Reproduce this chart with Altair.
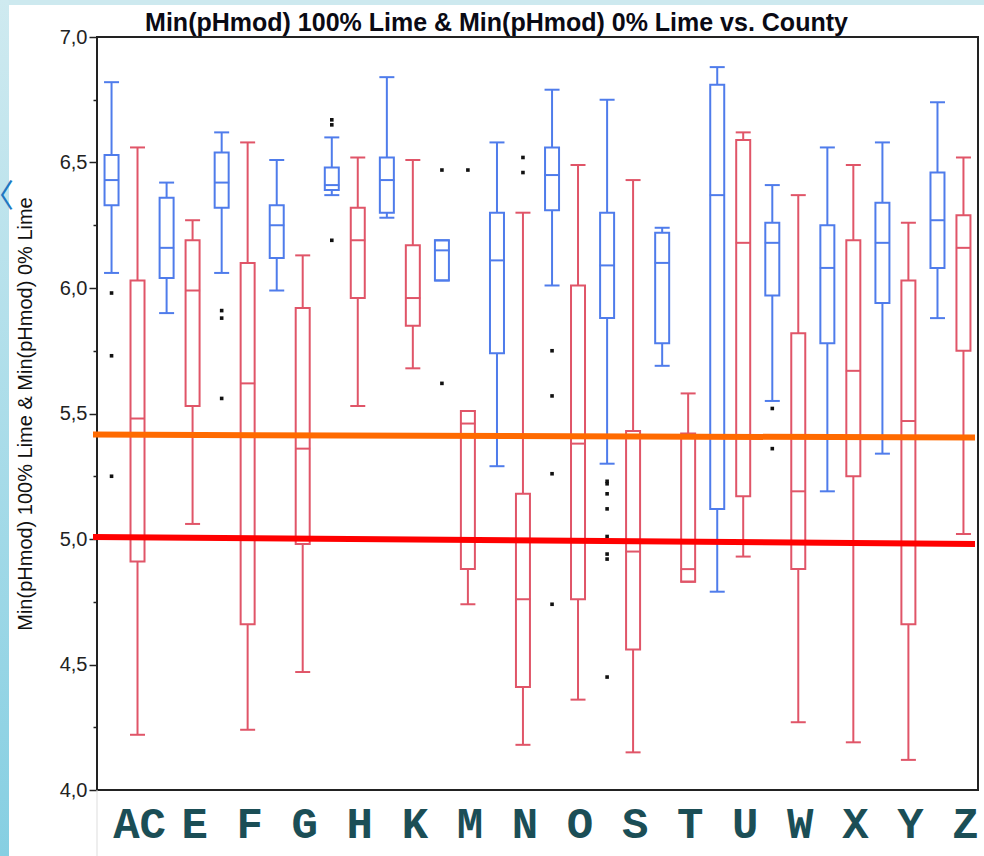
import altair as alt
import pandas as pd

# ---------------- data ----------------
counties = ["AC", "E", "F", "G", "H", "K", "M", "N", "O", "S", "T", "U", "W", "X", "Y", "Z"]
series_order = ["100% Lime", "0% Lime"]

# Min(pHmod) 100% Lime (blue)
lime100_lo  = [6.06, 5.90, 6.06, 5.99, 6.37, 6.28, 6.03, 5.29, 6.01, 5.30, 5.69, 4.79, 5.55, 5.19, 5.34, 5.88]
lime100_q1  = [6.33, 6.04, 6.32, 6.12, 6.39, 6.30, 6.03, 5.74, 6.31, 5.88, 5.78, 5.12, 5.97, 5.78, 5.94, 6.08]
lime100_med = [6.43, 6.16, 6.42, 6.25, 6.41, 6.43, 6.15, 6.11, 6.45, 6.09, 6.10, 6.37, 6.18, 6.08, 6.18, 6.27]
lime100_q3  = [6.53, 6.36, 6.54, 6.33, 6.48, 6.52, 6.19, 6.30, 6.56, 6.30, 6.22, 6.81, 6.26, 6.25, 6.34, 6.46]
lime100_hi  = [6.82, 6.42, 6.62, 6.51, 6.60, 6.84, 6.19, 6.58, 6.79, 6.75, 6.24, 6.88, 6.41, 6.56, 6.58, 6.74]

# Min(pHmod) 0% Lime (red)
lime0_lo  = [4.22, 5.06, 4.24, 4.47, 5.53, 5.68, 4.74, 4.18, 4.36, 4.15, 4.83, 4.93, 4.27, 4.19, 4.12, 5.02]
lime0_q1  = [4.91, 5.53, 4.66, 4.98, 5.96, 5.85, 4.88, 4.41, 4.76, 4.56, 4.83, 5.17, 4.88, 5.25, 4.66, 5.75]
lime0_med = [5.48, 5.99, 5.62, 5.36, 6.19, 5.96, 5.46, 4.76, 5.38, 4.95, 4.88, 6.18, 5.19, 5.67, 5.47, 6.16]
lime0_q3  = [6.03, 6.19, 6.10, 5.92, 6.32, 6.17, 5.51, 5.18, 6.01, 5.43, 5.42, 6.59, 5.82, 6.19, 6.03, 6.29]
lime0_hi  = [6.56, 6.27, 6.58, 6.13, 6.52, 6.51, 5.51, 6.30, 6.49, 6.43, 5.58, 6.62, 6.37, 6.49, 6.26, 6.52]

# outliers
out_county = ["AC", "AC", "AC", "F", "F", "F", "H", "H", "H", "M", "M", "M",
              "N", "N", "O", "O", "O", "O",
              "S", "S", "S", "S", "S", "S", "S", "S", "W", "W"]
out_series = (["100% Lime"] * 11 + ["0% Lime"] * 3 + ["100% Lime"] * 14)
out_value = [5.98, 5.73, 5.25, 5.91, 5.88, 5.56, 6.67, 6.65, 6.19, 6.47, 5.62, 6.47,
             6.52, 6.46, 5.75, 5.57, 5.26, 4.74,
             5.23, 5.22, 5.18, 5.12, 5.01, 4.94, 4.92, 4.45, 5.52, 5.36]

# hand-drawn reference lines (value at left edge, value at right edge)
ref_name = ["orange", "red"]
ref_start = [5.416, 5.008]
ref_end = [5.404, 4.980]

title_text = "Min(pHmod) 100% Lime & Min(pHmod) 0% Lime vs. County"
ytitle_text = "Min(pHmod) 100% Lime & Min(pHmod) 0% Lime"

# ---------------- tables ----------------
rows = []
for i, c in enumerate(counties):
    rows.append(dict(county=c, series="100% Lime", lo=lime100_lo[i], q1=lime100_q1[i],
                     med=lime100_med[i], q3=lime100_q3[i], hi=lime100_hi[i]))
    rows.append(dict(county=c, series="0% Lime", lo=lime0_lo[i], q1=lime0_q1[i],
                     med=lime0_med[i], q3=lime0_q3[i], hi=lime0_hi[i]))
box_df = pd.DataFrame(rows)
out_df = pd.DataFrame(dict(county=out_county, series=out_series, value=out_value))
ref_df = pd.DataFrame(dict(name=ref_name, y0=ref_start, y1=ref_end))

BLUE = "#4F7CEB"
RED = "#E05568"
W, H = 881, 753

xscale = alt.Scale(domain=counties, paddingInner=0, paddingOuter=0)
xaxis = alt.Axis(title=None, labelFont="Liberation Mono", labelFontWeight="bold",
                 labelFontSize=44, labelColor="#1b4e56", labelAngle=0, ticks=False,
                 domain=False, labelPadding=12, labelOffset=15, labelBaseline="top")
yscale = alt.Scale(domain=[4.0, 7.0], zero=False, nice=False)
tick_vals = [4.0 + 0.25 * k for k in range(13)]
yaxis = alt.Axis(
    title=ytitle_text,
    titleFont="Liberation Sans", titleFontSize=20, titleFontWeight="normal",
    titleColor="#111111", titleAngle=270, titleX=-72, titleY=H / 2,
    titleAlign="center", titleBaseline="middle",
    values=tick_vals, grid=False, domain=False,
    labelExpr="datum.value % 0.5 == 0 ? replace(format(datum.value, '.1f'), '.', ',') : ''",
    labelFont="Liberation Sans", labelFontSize=20, labelColor="#222222", labelPadding=2,
    tickColor="#222222", tickWidth=1.5,
    tickSize={"condition": {"test": "datum.value % 0.5 == 0", "value": 8}, "value": 4},
)


def X():
    return alt.X("county:N", scale=xscale, axis=xaxis, sort=counties)


def XO():
    return alt.XOffset("series:N", sort=series_order,
                       scale=alt.Scale(domain=series_order, paddingInner=0, paddingOuter=0.06))


def Y(field):
    return alt.Y(field, scale=yscale, axis=yaxis)


colscale = alt.Scale(domain=series_order, range=[BLUE, RED])

# decorative slide strips
deco = alt.Data(values=[{"k": 1}])
left_strip = alt.Chart(deco).mark_rect(
    fill=alt.Gradient(gradient="linear", x1=0, y1=0, x2=0, y2=1,
                      stops=[alt.GradientStop(color="#cfeaf0", offset=0),
                             alt.GradientStop(color="#86cfe2", offset=1)])
).encode(x=alt.value(-97), x2=alt.value(-88), y=alt.value(-37), y2=alt.value(H + 66))
top_strip = alt.Chart(deco).mark_rect(fill="#cde9ef").encode(
    x=alt.value(-88), x2=alt.value(W + 6), y=alt.value(-37), y2=alt.value(-32))
arrow = alt.Chart(deco).mark_text(fontSize=32, color="#1f78c1", font="Noto Sans CJK JP",
                                  align="right", baseline="middle").encode(
    x=alt.value(-83), y=alt.value(160), text=alt.value("〈"))
baseline_rule = alt.Chart(deco).mark_rule(color="#dddddd", strokeWidth=1).encode(
    x=alt.value(0), y=alt.value(H), y2=alt.value(H + 66))
title = alt.Chart(deco).mark_text(font="Liberation Sans", fontSize=25, fontWeight="bold",
                                  color="#0a0a14", align="center", baseline="alphabetic").encode(
    x=alt.value(W / 2 - 41), y=alt.value(-6), text=alt.value(title_text))

base = alt.Chart(box_df)
whisk = base.mark_rule(strokeWidth=2, opacity=1).encode(
    x=X(), xOffset=XO(), y=Y("lo:Q"), y2="hi:Q",
    color=alt.Color("series:N", scale=colscale, legend=None))
boxes = base.mark_bar(width=14, fill="white", fillOpacity=1, strokeWidth=2, strokeOpacity=1).encode(
    x=X(), xOffset=XO(), y=Y("q1:Q"), y2="q3:Q",
    stroke=alt.Stroke("series:N", scale=colscale, legend=None))
tick_kw = dict(size=15, thickness=2, orient="horizontal", opacity=1)
med = base.mark_tick(**tick_kw).encode(
    x=X(), xOffset=XO(), y=Y("med:Q"),
    color=alt.Color("series:N", scale=colscale, legend=None))
cap_lo = base.mark_tick(**tick_kw).encode(
    x=X(), xOffset=XO(), y=Y("lo:Q"),
    color=alt.Color("series:N", scale=colscale, legend=None))
cap_hi = base.mark_tick(**tick_kw).encode(
    x=X(), xOffset=XO(), y=Y("hi:Q"),
    color=alt.Color("series:N", scale=colscale, legend=None))
outl = alt.Chart(out_df).mark_square(size=13, color="#111111", opacity=1).encode(
    x=X(), xOffset=XO(), y=Y("value:Q"))
ref_orange = alt.Chart(ref_df).transform_filter(alt.datum.name == "orange").mark_rule(
    strokeWidth=6, color="#FF6A00", opacity=1).encode(
    x=alt.value(-4), x2=alt.value(W - 3), y=Y("y0:Q"), y2="y1:Q")
ref_red = alt.Chart(ref_df).transform_filter(alt.datum.name == "red").mark_rule(
    strokeWidth=6, color="#FF0000", opacity=1).encode(
    x=alt.value(-4), x2=alt.value(W - 3), y=Y("y0:Q"), y2="y1:Q")

chart = alt.layer(
    left_strip, top_strip, arrow, baseline_rule, title,
    whisk, boxes, med, cap_lo, cap_hi, outl, ref_orange, ref_red
).properties(
    width=W, height=H,
    autosize=alt.AutoSizeParams(type="none"),
    padding={"left": 97, "top": 37, "right": 6, "bottom": 66},
    background="white",
).configure_view(stroke="#222222", strokeWidth=2)

chart.save("out.html", embed_options={"renderer": "svg", "actions": False})
